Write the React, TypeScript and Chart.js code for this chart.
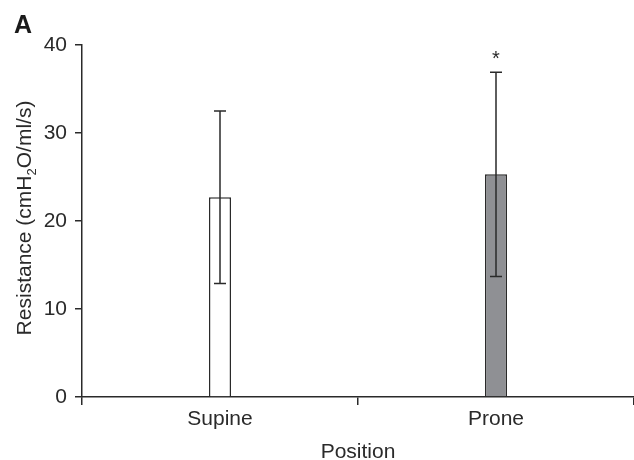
import React, { useEffect, useRef } from "react";
import { Chart, registerables } from "chart.js";

Chart.register(...registerables);

const categories = ["Supine", "Prone"];
const means = [22.7, 25.3];
const sds = [9.8, 11.6];
const markers = ["", "*"];
const fillColors = ["#ffffff", "#8f9094"];
const yTicks = [0, 10, 20, 30, 40];

const FONT = "'Liberation Sans', Arial, sans-serif";
const INK = "#2a2a2a";

const errorBarPlugin = {
  id: "errorBars",
  afterDatasetsDraw(chart: any) {
    const { ctx, scales } = chart;
    const xs = scales.x;
    const ys = scales.y;
    ctx.save();
    ctx.strokeStyle = INK;
    ctx.lineWidth = 1.5;
    means.forEach((m, i) => {
      const x = xs.getPixelForValue(i);
      const yt = ys.getPixelForValue(m + sds[i]);
      const yb = ys.getPixelForValue(m - sds[i]);
      ctx.beginPath();
      ctx.moveTo(x, yt);
      ctx.lineTo(x, yb);
      ctx.moveTo(x - 6, yt);
      ctx.lineTo(x + 6, yt);
      ctx.moveTo(x - 6, yb);
      ctx.lineTo(x + 6, yb);
      ctx.stroke();
      if (markers[i]) {
        ctx.fillStyle = INK;
        ctx.font = `20px ${FONT}`;
        ctx.textAlign = "center";
        ctx.textBaseline = "alphabetic";
        ctx.fillText(markers[i], x, yt - 7);
      }
    });
    ctx.restore();
  },
};

const decorPlugin = {
  id: "decor",
  afterDraw(chart: any) {
    const { ctx, chartArea } = chart;
    ctx.save();
    ctx.fillStyle = "#1a1a1a";
    ctx.font = `bold 25px ${FONT}`;
    ctx.textAlign = "left";
    ctx.textBaseline = "alphabetic";
    ctx.fillText("A", 14, 33);

    // y-axis title with subscript
    const parts: [string, boolean][] = [
      ["Resistance (cmH", false],
      ["2", true],
      ["O/ml/s)", false],
    ];
    const mainFont = `21px ${FONT}`;
    const subFont = `13px ${FONT}`;
    let total = 0;
    const widths = parts.map(([t, sub]) => {
      ctx.font = sub ? subFont : mainFont;
      const w = ctx.measureText(t).width;
      total += w;
      return w;
    });
    const cy = (chartArea.top + chartArea.bottom) / 2 - 3;
    ctx.translate(31, cy);
    ctx.rotate(-Math.PI / 2);
    ctx.fillStyle = INK;
    let x = -total / 2;
    parts.forEach(([t, sub], i) => {
      ctx.font = sub ? subFont : mainFont;
      ctx.fillText(t, x, sub ? 5 : 0);
      x += widths[i];
    });
    ctx.restore();
  },
};

export default function App() {
  const ref = useRef<HTMLCanvasElement>(null);
  useEffect(() => {
    document.body.style.margin = "0";
    const chart = new Chart(ref.current!, {
      type: "bar",
      data: {
        labels: categories,
        datasets: [
          {
            data: means,
            backgroundColor: fillColors,
            borderColor: INK,
            borderWidth: 1.5,
            categoryPercentage: 1,
            barPercentage: 0.08,
          },
        ],
      },
      options: {
        responsive: false,
        animation: false,
        layout: { padding: { top: 45, right: 0, left: 0, bottom: 0 } },
        plugins: { legend: { display: false }, tooltip: { enabled: false } },
        scales: {
          x: {
            offset: true,
            grid: {
              display: true,
              offset: true,
              drawOnChartArea: false,
              drawTicks: true,
              tickLength: 8,
              color: INK,
              lineWidth: 1.5,
            },
            border: { display: true, color: INK, width: 1.5 },
            ticks: { color: INK, font: { family: FONT, size: 21 }, padding: 2 },
            title: {
              display: true,
              text: "Position",
              color: INK,
              font: { family: FONT, size: 21, lineHeight: 0.7 },
              padding: 0,
            },
            afterFit: (s: any) => {
              s.height = 63;
            },
          },
          y: {
            min: 0,
            max: 40,
            afterBuildTicks: (s: any) => {
              s.ticks = yTicks.map((v) => ({ value: v }));
            },
            grid: {
              display: true,
              drawOnChartArea: false,
              drawTicks: true,
              tickLength: 7,
              color: INK,
              lineWidth: 1.5,
            },
            border: { display: true, color: INK, width: 1.5 },
            ticks: { color: INK, font: { family: FONT, size: 21 }, padding: 8 },
            afterFit: (s: any) => {
              s.width = 82;
            },
          },
        },
      },
      plugins: [errorBarPlugin, decorPlugin],
    });
    return () => chart.destroy();
  }, []);
  return (
    <div>
      <canvas ref={ref} width={634} height={460} style={{ display: "block" }} />
    </div>
  );
}
